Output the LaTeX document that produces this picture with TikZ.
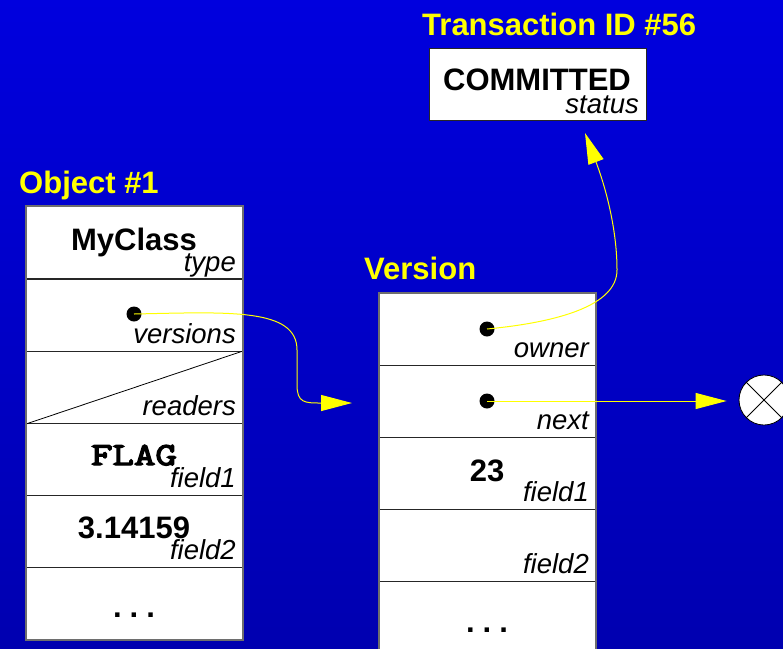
\documentclass[tikz,border=0pt]{standalone}
\usepackage{fontspec}
\setmainfont{Liberation Sans}
\newfontfamily\flagfont{Latin Modern Mono}[FakeBold=4.5,FakeStretch=1.3]
\usetikzlibrary{arrows.meta}
\definecolor{bgtop}{RGB}{0,0,222}
\definecolor{bgbot}{RGB}{0,0,176}
\definecolor{ttl}{RGB}{255,255,0}
\definecolor{framegray}{RGB}{110,110,110}
\newcommand{\mydots}{.\hspace{8pt}.\hspace{8pt}.}
\tikzset{
  cell/.style={draw=black!85, line width=1pt, fill=white, minimum width=216pt, minimum height=72pt, inner sep=0pt, anchor=north west},
  val/.style={font=\fontsize{31}{36}\selectfont\bfseries, inner sep=0pt, anchor=base},
  monoval/.style={font=\fontsize{32}{38}\selectfont\flagfont, inner sep=0pt, anchor=base},
  lbl/.style={font=\fontsize{27.5}{32}\selectfont\itshape, inner sep=0pt, anchor=base east},
  ttlstyle/.style={font=\fontsize{31}{36}\selectfont\bfseries, text=ttl, inner sep=0pt, anchor=base west},
  ptr/.style={circle, fill=black, inner sep=0pt, minimum size=15pt},
  link/.style={draw=ttl, line width=1pt, -{Triangle[length=31pt,width=16pt]}},
  frame/.style={draw=framegray, line width=1.2pt}
}
\begin{document}
\begin{tikzpicture}[x=1pt,y=-1pt]
\useasboundingbox (0,0) rectangle (783,648);
\clip (0,0) rectangle (783,648);
\shade[top color=bgtop, bottom color=bgbot] (0,0) rectangle (783,648);

% titles
\node[ttlstyle] (t1) at (19,193) {Object \#1};
\node[ttlstyle] (t2) at (364,279) {Version};
\node[ttlstyle] (t3) at (422,35) {Transaction ID \#56};

% transaction box
\node[cell, minimum width=217pt] (tx) at (429,48) {};
\node[val] (txv) at (537,90) {COMMITTED};
\node[lbl] (txl) at (639,113) {status};

% object rows
\node[cell] (o1) at (26,206) {};
\node[cell] (o2) at (26,279) {};
\node[cell] (o3) at (26,351) {};
\node[cell] (o4) at (26,423) {};
\node[cell] (o5) at (26,495) {};
\node[cell] (o6) at (26,567) {};
\draw[black, line width=0.8pt] (o3.south west) -- (o3.north east);
\draw[frame] (o1.north west) rectangle (o6.south east);

\node[val] (o1v) at (134,250) {MyClass};
\node[lbl] (o1l) at (236,271) {type};
\node[lbl] (o2l) at (236,343) {versions};
\node[lbl] (o3l) at (236,415) {readers};
\node[monoval] (o4v) at (134,465) {FLAG};
\node[lbl] (o4l) at (236,487) {field1};
\node[val] (o5v) at (134,538) {3.14159};
\node[lbl] (o5l) at (236,559) {field2};
\node[val] (o6v) at (134,617) {\mydots};

% version rows
\node[cell] (v1) at (379,293) {};
\node[cell] (v2) at (379,365) {};
\node[cell] (v3) at (379,437) {};
\node[cell] (v4) at (379,509) {};
\node[cell] (v5) at (379,581) {};
\draw[frame] (v1.north west) rectangle (v5.south east);

\node[lbl] (v1l) at (589,357) {owner};
\node[lbl] (v2l) at (589,429) {next};
\node[val] (v3v) at (487,481) {23};
\node[lbl] (v3l) at (589,501) {field1};
\node[lbl] (v4l) at (589,573) {field2};
\node[val] (v5v) at (487,632) {\mydots};

% pointer dots
\node[ptr] (d1) at (134,314) {};
\node[ptr] (d2) at (487,329) {};
\node[ptr] (d3) at (487,401) {};

% nil
\node[circle, draw=black, fill=white, minimum size=50pt, inner sep=0pt, line width=0.8pt] (nil) at (764,400) {};
\draw[black, line width=0.8pt] (nil.45) -- (nil.225);
\draw[black, line width=0.8pt] (nil.135) -- (nil.315);

% connectors
\coordinate (e1) at (352,403);
\coordinate (e2) at (585,133);
\draw[link] (d1.center) .. controls (230,312) and (297,308) .. (297,350) -- (297,385) .. controls (297,403) and (305,403) .. (321,403) -- (e1);
\draw[link] (d2.center) .. controls (560,322) and (617,305) .. (617,270) .. controls (617,232) and (607,191) .. (e2);
\draw[link, shorten >=12pt] (d3.center) -- (d3.center -| nil.west);
\end{tikzpicture}
\end{document}
